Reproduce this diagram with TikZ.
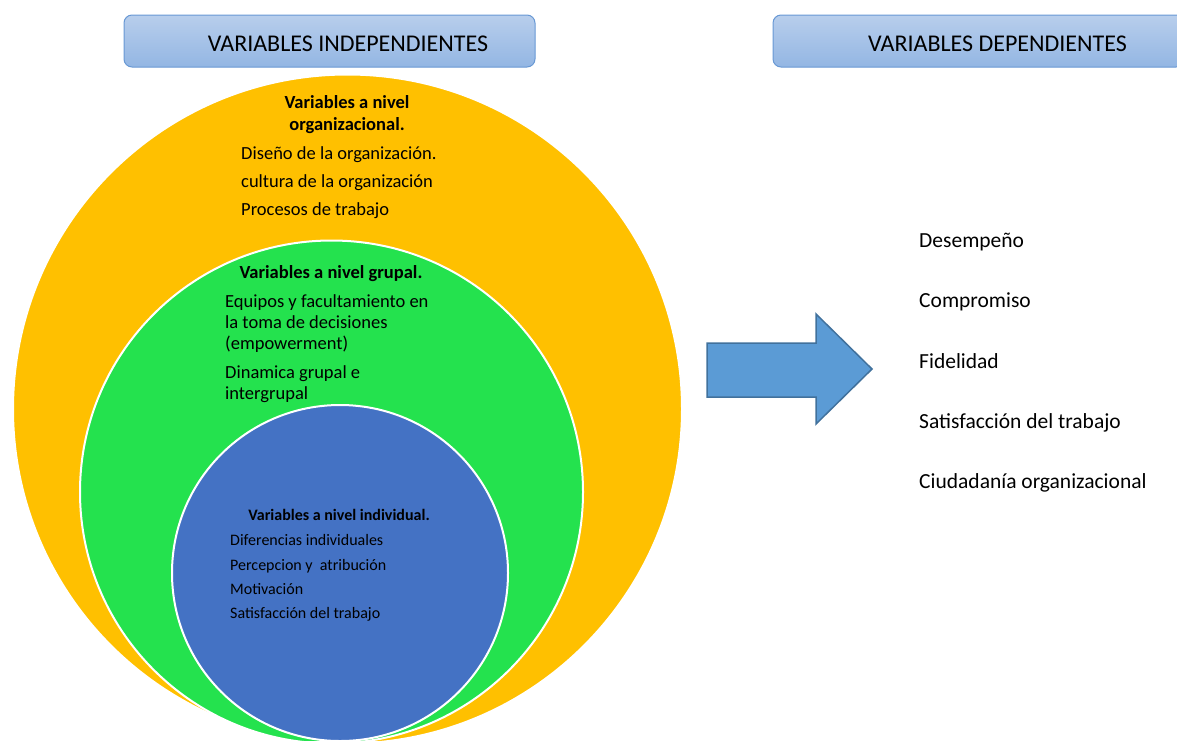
\documentclass[tikz,border=0pt]{standalone}
\usepackage{fontspec}
\setmainfont{Carlito}
\usepackage{xcolor}
\usepackage{tikz}
\usetikzlibrary{positioning,calc}

\definecolor{orgyellow}{RGB}{255,192,0}
\definecolor{grpgreen}{RGB}{36,226,78}
\definecolor{indblue}{RGB}{68,114,196}
\definecolor{arrowblue}{RGB}{91,155,213}
\definecolor{arrowedge}{RGB}{65,113,156}
\definecolor{headtop}{RGB}{184,206,236}
\definecolor{headbottom}{RGB}{147,182,227}
\definecolor{headedge}{RGB}{104,152,212}

\begin{document}
\begin{tikzpicture}[
    x=1pt, y=-1pt,
    header/.style={rectangle, rounded corners=8pt, draw=headedge, line width=1pt,
        top color=headtop, bottom color=headbottom, minimum width=411pt, minimum height=52pt, inner sep=0},
    headtext/.style={anchor=base, inner sep=0, font=\fontsize{24}{28}\selectfont},
    ring/.style={circle, draw=white, line width=2pt, inner sep=0},
    title/.style={anchor=base, inner sep=0, font=\bfseries\fontsize{18.5}{22}\selectfont},
    item/.style={anchor=base west, inner sep=0, font=\fontsize{18.5}{22}\selectfont},
    smalltitle/.style={anchor=base, inner sep=0, font=\bfseries\fontsize{16}{19}\selectfont},
    smallitem/.style={anchor=base west, inner sep=0, font=\fontsize{16}{19}\selectfont},
    result/.style={anchor=base west, inner sep=0, font=\fontsize{21.5}{26}\selectfont}
]
    \useasboundingbox (0,0) rectangle (1177,740);
    \clip (0,0) rectangle (1177,740);

    % headers
    \node[header] (indepbox) at (329.5,41) {};
    \node[headtext] (indeptext) at (348,51) {VARIABLES INDEPENDIENTES};
    \node[header] (depbox) at (978.5,41) {};
    \node[headtext] (deptext) at (997.5,51) {VARIABLES DEPENDIENTES};

    % nested circles
    \node[ring, fill=orgyellow, minimum size=669pt] (orgcircle) at (347.5,409) {};
    \node[ring, fill=grpgreen, minimum size=503pt] (grpcircle) at (331.5,492) {};
    \node[ring, fill=indblue, minimum size=336pt] (indcircle) at (340,573) {};

    % organizational level
    \node[title] (orgtitle1) at (347,108) {Variables a nivel};
    \node[title] (orgtitle2) at (347,130) {organizacional.};
    \node[item] (org1) at (241,159) {Diseño de la organización.};
    \node[item] (org2) at (241,187) {cultura de la organización};
    \node[item] (org3) at (241,215) {Procesos de trabajo};

    % group level
    \node[title] (grptitle) at (331,278) {Variables a nivel grupal.};
    \node[item] (grp1a) at (225,307) {Equipos y facultamiento en};
    \node[item] (grp1b) at (225,328) {la toma de decisiones};
    \node[item] (grp1c) at (225,349) {(empowerment)};
    \node[item] (grp2a) at (225,378) {Dinamica grupal e};
    \node[item] (grp2b) at (225,399) {intergrupal};

    % individual level
    \node[smalltitle] (indtitle) at (339,520) {Variables a nivel individual.};
    \node[smallitem] (ind1) at (230,545) {Diferencias individuales};
    \node[smallitem] (ind2) at (230,570) {Percepcion y\ \ atribución};
    \node[smallitem] (ind3) at (230,594) {Motivación};
    \node[smallitem] (ind4) at (230,618) {Satisfacción del trabajo};

    % big arrow
    \draw[fill=arrowblue, draw=arrowedge, line width=1.5pt, line join=miter]
        (707,343) -- (816,343) -- (816,314) -- (872,369) -- (816,424) -- (816,397) -- (707,397) -- cycle;

    % dependent variables
    \node[result] (dep1) at (919,247) {Desempeño};
    \node[result] (dep2) at (919,307) {Compromiso};
    \node[result] (dep3) at (919,368) {Fidelidad};
    \node[result] (dep4) at (919,428) {Satisfacción del trabajo};
    \node[result] (dep5) at (919,488) {Ciudadanía organizacional};
\end{tikzpicture}
\end{document}
